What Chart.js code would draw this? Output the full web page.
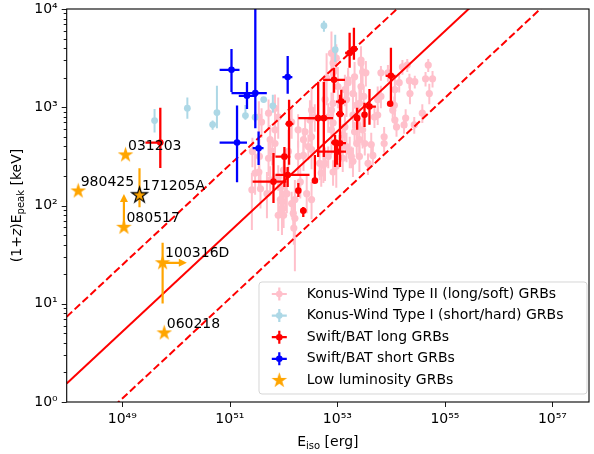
<!DOCTYPE html>
<html>
<head>
<meta charset="utf-8">
<script src="https://cdn.jsdelivr.net/npm/chart.js@4.4.1/dist/chart.umd.min.js"></script>
<style>
html, body { margin: 0; padding: 0; background: #fff; }
#wrap { width: 594px; height: 454px; }
</style>
</head>
<body>
<div id="wrap"><canvas id="c" width="594" height="454"></canvas></div>
<script>
// all values are log10: Eiso in erg, (1+z)Epeak in keV

// Konus-Wind Type II (long/soft)
var kw2LogE = [
54.69,54.77,54.64,54.71,54.58,54.43,54.34,54.44,54.35,54.27,
54.24,54.21,54.30,54.15,54.07,54.03,54.07,54.10,53.87,53.87,
54.06,53.81,53.81,53.75,53.94,53.69,53.75,53.63,53.57,53.41,
53.66,53.51,53.41,53.32,53.36,53.23,53.26,53.35,53.44,53.47,
53.44,53.49,53.29,53.20,53.14,53.14,53.10,53.17,52.98,52.92,
52.74,52.70,52.67,52.83,52.89,52.83,52.89,52.92,52.77,52.80,
52.92,52.89,52.58,52.52,52.46,52.37,52.43,52.31,52.21,52.15,
52.03,51.97,51.97,52.18,52.21,53.29,53.38,51.54,51.57,51.69,
51.75,51.90,51.97,52.00,51.90,51.94,52.06,52.19,
52.77,53.10,53.29,51.55,51.47,51.79,51.72,51.94,52.52,52.09,
51.75,51.84,51.90,51.84,52.52,52.27,52.37,52.40,52.49,52.27,
52.15,51.84,52.00,51.72,51.54,52.52,52.92,52.92,52.98,53.01,
53.17,53.20,53.41,53.32,53.44,53.53,53.47,51.42,51.41,51.59];
var kw2LogEp = [
3.43,3.29,3.29,3.14,2.94,2.82,3.27,3.26,3.14,2.89,
2.82,3.41,3.43,3.25,3.18,2.97,2.87,2.80,2.70,2.63,
3.02,3.35,3.11,3.08,3.35,2.90,2.92,2.62,2.43,2.50,
2.51,2.63,2.67,2.75,2.63,2.55,2.50,3.02,3.21,3.36,
3.45,3.11,3.14,3.28,3.18,2.80,2.72,2.60,2.40,2.34,
2.41,2.33,2.43,2.50,2.77,2.90,2.97,2.84,3.08,3.30,
3.45,3.55,2.90,2.70,2.60,2.51,2.12,2.24,2.06,2.02,
2.12,1.97,1.92,1.92,1.87,2.92,2.82,2.34,2.17,2.12,
2.26,2.29,2.04,1.90,1.90,2.19,2.12,1.77,
2.43,2.48,2.45,2.50,2.33,2.55,2.48,2.06,2.06,2.55,
2.67,2.77,2.90,2.99,2.57,2.50,2.67,2.75,2.87,2.77,
2.85,2.63,2.36,2.94,2.90,2.97,3.04,3.35,3.50,3.21,
3.08,3.25,3.04,3.31,3.48,3.35,2.77,2.55,2.16,2.85];
var kw2ErrUp = [
.06,.08,.07,.10,.09,.08,.07,.06,.10,.09, .08,.07,.06,.09,.12,.10,.08,.09,.10,.08,
.09,.07,.11,.13,.08,.10,.09,.12,.10,.14, .09,.11,.13,.10,.12,.15,.10,.13,.16,.12,
.14,.10,.18,.12,.15,.13,.11,.14,.20,.12, .16,.12,.15,.10,.22,.14,.18,.12,.20,.25,
.15,.22,.13,.16,.12,.14,.18,.15,.20,.12, .16,.14,.20,.12,.29,.12,.10,.16,.18,.22,
.14,.12,.15,.23,.14,.12,.18,.15,
.16,.12,.14,.18,.20,.12,.16,.14,.18,.22, .15,.12,.20,.14,.18,.16,.12,.14,.20,.16,
.15,.12,.18,.14,.16,.22,.12,.18,.14,.20, .16,.12,.18,.15,.14,.12,.16,.14,.17,.14];
var kw2ErrDn = [
.07,.09,.08,.11,.10,.09,.08,.07,.11,.10, .09,.08,.07,.10,.13,.11,.09,.10,.12,.09,
.10,.08,.12,.14,.09,.11,.10,.13,.12,.16, .10,.12,.15,.11,.14,.17,.12,.15,.18,.14,
.16,.11,.20,.14,.17,.15,.13,.16,.22,.14, .18,.14,.17,.12,.25,.16,.20,.14,.22,.28,
.17,.25,.15,.18,.14,.16,.20,.17,.22,.14, .18,.16,.22,.14,.54,.14,.12,.18,.20,.25,
.16,.14,.17,.13,.16,.14,.20,.17,
.18,.14,.16,.20,.22,.14,.18,.16,.20,.25, .17,.14,.22,.16,.20,.18,.14,.16,.22,.18,
.17,.14,.20,.16,.18,.25,.14,.20,.16,.22, .18,.14,.20,.17,.16,.14,.19,.16,.41,.16];

// Konus-Wind Type I (short/hard)
var kw1LogE  = [49.60, 50.21, 50.76, 50.68, 51.29, 51.47, 51.63, 51.80, 52.75, 52.96];
var kw1LogEp = [2.864, 2.991, 2.946, 2.824, 2.915, 2.899, 3.078, 3.014, 3.830, 3.585];
var kw1EpLo  = [2.742, 2.882, 2.787, 2.770, 2.872, 2.851, 3.050, 2.943, 3.769, 3.461];
var kw1EpHi  = [2.981, 3.099, 3.218, 2.864, 3.024, 2.953, 3.100, 3.127, 3.881, 3.738];

// Swift/BAT long
var batLongLogE  = [49.707,51.812,52.015,52.076,52.102,52.274,52.366,52.582,52.643,52.748,52.938,53.073,53.049,52.957,53.049,52.994,53.368,53.505,53.597,53.228,53.308,53.996,53.982];
var batLongELo   = [49.430,51.424,51.849,51.849,52.034,52.237,52.311,52.550,52.274,52.459,52.735,52.975,52.975,52.883,52.938,52.643,53.340,53.480,53.477,53.144,53.234,53.898,53.982];
var batLongEHi   = [49.744,52.052,52.126,52.482,52.182,52.311,52.422,52.610,52.828,52.920,53.141,53.160,53.123,53.105,53.160,53.160,53.400,53.530,53.717,53.310,53.382,54.083,53.982];
var batLongLogEp = [2.640,2.243,2.497,2.311,2.831,2.151,1.947,2.253,2.889,2.889,3.279,3.058,2.930,2.640,2.634,2.548,2.889,2.923,3.007,3.552,3.592,3.320,3.035];
var batLongEpLo  = [2.382,2.026,2.189,2.189,2.415,2.087,1.883,2.229,2.494,2.494,3.147,2.923,2.393,2.393,2.464,2.415,2.770,2.800,2.821,3.401,3.483,3.045,3.035];
var batLongEpHi  = [2.994,2.535,2.596,2.393,3.076,2.229,1.985,2.515,3.259,3.259,3.402,3.178,3.126,2.718,2.718,2.668,2.994,3.045,3.186,3.758,3.809,3.606,3.035];

// Swift/BAT short
var batShortLogE  = [51.031, 51.319, 51.474, 51.134, 51.535, 52.076];
var batShortELo   = [50.810, 51.166, 51.031, 50.810, 51.424, 51.978];
var batShortEHi   = [51.180, 51.498, 51.688, 51.319, 51.627, 52.163];
var batShortLogEp = [3.381, 3.116, 3.144, 2.640, 2.583, 3.307];
var batShortEpLo  = [3.154, 2.981, 2.787, 2.236, 2.413, 3.137];
var batShortEpHi  = [3.592, 3.256, 4.500, 3.017, 2.752, 3.521];

// low luminosity GRBs
var llNames  = ['980425', '031203', '171205A', '080517', '100316D', '060218'];
var llLogE   = [48.18, 49.06, 49.32, 49.03, 49.75, 49.78];
var llLogEp  = [2.148, 2.515, 2.104, 1.778, 1.417, 0.703];
var llEpLo   = [null, null, 1.982, null, 1.003, null];
var llEpHi   = [null, null, 2.379, null, 1.621, null];
var llEpLimit = [null, null, null, 2.117, null, null];   // lower limit arrow (up)
var llELimit  = [null, null, null, null, 50.20, null];   // lower limit arrow (right)

// Amati relation and its scatter
var amatiSlope = 0.51;
var amatiLogEpAt52 = 2.245;
var amatiScatter = 0.68;

var xLogMin = 47.966, xLogMax = 57.68;
var xTickExps = [49, 51, 53, 55, 57];
var yTickExps = [0, 1, 2, 3, 4];

var legendLabels = ['Konus-Wind Type II (long/soft) GRBs', 'Konus-Wind Type I (short/hard) GRBs',
                    'Swift/BAT long GRBs', 'Swift/BAT short GRBs', 'Low luminosity GRBs'];

function p10(v) { return Math.pow(10, v); }
var SUP = '⁰¹²³⁴⁵⁶⁷⁸⁹';
function sup(n) { return String(n).split('').map(function (d) { return SUP[+d]; }).join(''); }

function makeStar(r, fill, edge) {
  var s = Math.ceil(2 * r + 4), c = document.createElement('canvas');
  c.width = s; c.height = s;
  var g = c.getContext('2d');
  g.beginPath();
  for (var i = 0; i < 10; i++) {
    var rr = i % 2 ? r * 0.382 : r;
    var a = -Math.PI / 2 + i * Math.PI / 5;
    g.lineTo(s / 2 + rr * Math.cos(a), s / 2 + rr * Math.sin(a));
  }
  g.closePath();
  g.fillStyle = fill; g.fill();
  if (edge) { g.strokeStyle = edge; g.lineWidth = 1.2; g.stroke(); }
  return c;
}
var star = makeStar(8.2, 'orange');
var starEdge = makeStar(8.2, 'orange', 'black');

// build points
var kw2Pts = kw2LogE.map(function (e, i) {
  return {x: p10(e), y: p10(kw2LogEp[i]), yLo: p10(kw2LogEp[i] - kw2ErrDn[i]), yHi: p10(kw2LogEp[i] + kw2ErrUp[i])};
});
var kw1Pts = kw1LogE.map(function (e, i) {
  return {x: p10(e), y: p10(kw1LogEp[i]), yLo: p10(kw1EpLo[i]), yHi: p10(kw1EpHi[i])};
});
var batLongPts = batLongLogE.map(function (e, i) {
  return {x: p10(e), y: p10(batLongLogEp[i]), xLo: p10(batLongELo[i]), xHi: p10(batLongEHi[i]),
          yLo: p10(batLongEpLo[i]), yHi: p10(batLongEpHi[i])};
});
var batShortPts = batShortLogE.map(function (e, i) {
  return {x: p10(e), y: p10(batShortLogEp[i]), xLo: p10(batShortELo[i]), xHi: p10(batShortEHi[i]),
          yLo: p10(batShortEpLo[i]), yHi: p10(batShortEpHi[i])};
});
var llPts = llLogE.map(function (e, i) {
  var p = {x: p10(e), y: p10(llLogEp[i]), name: llNames[i]};
  if (llEpLo[i] !== null) { p.yLo = p10(llEpLo[i]); p.yHi = p10(llEpHi[i]); }
  if (llEpLimit[i] !== null) p.yLim = p10(llEpLimit[i]);
  if (llELimit[i] !== null) p.xLim = p10(llELimit[i]);
  return p;
});

function amatiLine(shift) {
  return [xLogMin, xLogMax].map(function (e) {
    return {x: p10(e), y: p10(amatiLogEpAt52 + shift + amatiSlope * (e - 52))};
  });
}

var errorBars = {
  id: 'errorBars',
  beforeDatasetDraw: function (chart, args) {
    var ds = chart.data.datasets[args.index];
    if (!ds.errColor) return;
    var ctx = chart.ctx, a = chart.chartArea, x = chart.scales.x, y = chart.scales.y;
    ctx.save();
    ctx.beginPath(); ctx.rect(a.left, a.top, a.right - a.left, a.bottom - a.top); ctx.clip();
    ctx.strokeStyle = ds.errColor; ctx.fillStyle = ds.errColor; ctx.lineWidth = ds.errWidth;
    ds.data.forEach(function (p) {
      var px = x.getPixelForValue(p.x), py = y.getPixelForValue(p.y);
      ctx.beginPath();
      if (p.xLo !== undefined) { ctx.moveTo(x.getPixelForValue(p.xLo), py); ctx.lineTo(x.getPixelForValue(p.xHi), py); }
      if (p.yLo !== undefined) { ctx.moveTo(px, y.getPixelForValue(p.yLo)); ctx.lineTo(px, y.getPixelForValue(p.yHi)); }
      ctx.stroke();
      if (p.yLim !== undefined) {
        var ty = y.getPixelForValue(p.yLim);
        ctx.beginPath(); ctx.moveTo(px, py); ctx.lineTo(px, ty + 4); ctx.stroke();
        ctx.beginPath(); ctx.moveTo(px, ty); ctx.lineTo(px - 4, ty + 8); ctx.lineTo(px + 4, ty + 8); ctx.closePath(); ctx.fill();
      }
      if (p.xLim !== undefined) {
        var tx = x.getPixelForValue(p.xLim);
        ctx.beginPath(); ctx.moveTo(px, py); ctx.lineTo(tx - 4, py); ctx.stroke();
        ctx.beginPath(); ctx.moveTo(tx, py); ctx.lineTo(tx - 8, py - 4); ctx.lineTo(tx - 8, py + 4); ctx.closePath(); ctx.fill();
      }
    });
    ctx.restore();
  }
};

var frameTicks = {
  id: 'frameTicks',
  afterDraw: function (chart) {
    var ctx = chart.ctx, a = chart.chartArea, x = chart.scales.x, y = chart.scales.y;
    ctx.save();
    ctx.strokeStyle = '#000';
    ctx.lineWidth = 0.9;
    xTickExps.forEach(function (e) {
      var px = Math.round(x.getPixelForValue(p10(e))) + 0.5;
      ctx.beginPath(); ctx.moveTo(px, a.bottom); ctx.lineTo(px, a.bottom + 5); ctx.stroke();
    });
    for (var e = 0; e < 4; e++) {
      for (var m = 1; m < 10; m++) {
        var py = Math.round(y.getPixelForValue(m * p10(e))) + 0.5;
        ctx.beginPath(); ctx.moveTo(a.left, py); ctx.lineTo(a.left - (m === 1 ? 5 : 3), py); ctx.stroke();
      }
    }
    var py4 = Math.round(y.getPixelForValue(p10(4))) + 0.5;
    ctx.beginPath(); ctx.moveTo(a.left, py4); ctx.lineTo(a.left - 5, py4); ctx.stroke();
    ctx.lineWidth = 1.1;
    ctx.strokeRect(a.left, a.top, a.right - a.left, a.bottom - a.top);

    // axis titles
    ctx.fillStyle = '#000';
    ctx.textBaseline = 'alphabetic';
    var big = '14px "DejaVu Sans"', small = '10px "DejaVu Sans"', ital = 'oblique 14px "DejaVu Sans"';
    function runs(parts) {
      var w = 0;
      parts.forEach(function (r) { ctx.font = r[1]; r.w = ctx.measureText(r[0]).width; w += r.w; });
      return w;
    }
    var xt = [['E', big, 0], ['iso', small, 3], [' [erg]', big, 0]];
    var wx = runs(xt), cx = (a.left + a.right) / 2 - wx / 2;
    xt.forEach(function (r) { ctx.font = r[1]; ctx.fillText(r[0], cx, 445.5 + r[2]); cx += r.w; });

    var yt = [['(1+', big, 0], ['z', ital, 0], [')E', big, 0], ['peak', small, 3], [' [keV]', big, 0]];
    var wy = runs(yt);
    ctx.translate(21, (a.top + a.bottom) / 2);
    ctx.rotate(-Math.PI / 2);
    var cy = -wy / 2;
    yt.forEach(function (r) { ctx.font = r[1]; ctx.fillText(r[0], cy, r[2]); cy += r.w; });
    ctx.restore();
  }
};

var annotate = {
  id: 'annotate',
  afterDatasetsDraw: function (chart) {
    var ctx = chart.ctx, meta = chart.getDatasetMeta(0);
    ctx.save();
    ctx.font = '14px "DejaVu Sans"';
    ctx.fillStyle = '#000';
    ctx.textBaseline = 'middle';
    ctx.textAlign = 'left';
    meta.data.forEach(function (el, i) {
      ctx.fillText(llPts[i].name, el.x + 2.5, el.y - 9);
    });
    ctx.restore();
  }
};

var legendBox = {
  id: 'legendBox',
  afterDraw: function (chart) {
    var ctx = chart.ctx;
    var bx = 259, by = 282, bw = 328, bh = 112, r = 3;
    ctx.save();
    ctx.beginPath();
    ctx.moveTo(bx + r, by); ctx.arcTo(bx + bw, by, bx + bw, by + bh, r); ctx.arcTo(bx + bw, by + bh, bx, by + bh, r);
    ctx.arcTo(bx, by + bh, bx, by, r); ctx.arcTo(bx, by, bx + bw, by, r); ctx.closePath();
    ctx.fillStyle = 'rgba(255,255,255,0.8)'; ctx.fill();
    ctx.strokeStyle = 'rgba(204,204,204,0.8)'; ctx.lineWidth = 1; ctx.stroke();
    var cols = ['pink', 'lightblue', 'red', 'blue'];
    var hx = 279.3, tx = 306.7;
    legendLabels.forEach(function (lab, i) {
      var cy = 294 + i * 21.6;
      if (i < 4) {
        ctx.strokeStyle = cols[i]; ctx.fillStyle = cols[i]; ctx.lineWidth = 2.2;
        ctx.beginPath(); ctx.moveTo(hx - 7.5, cy); ctx.lineTo(hx + 7.5, cy);
        ctx.moveTo(hx, cy - 6.5); ctx.lineTo(hx, cy + 6.5); ctx.stroke();
        ctx.beginPath(); ctx.arc(hx, cy, 3.3, 0, Math.PI * 2); ctx.fill();
      } else {
        ctx.drawImage(star, hx - star.width / 2, cy - star.height / 2);
      }
      ctx.fillStyle = '#000'; ctx.font = '14px "DejaVu Sans"'; ctx.textBaseline = 'middle';
      ctx.fillText(lab, tx, cy);
    });
    ctx.restore();
  }
};

Chart.defaults.font.family = '"DejaVu Sans"';
Chart.defaults.font.size = 14;
Chart.defaults.color = '#000';

new Chart(document.getElementById('c'), {
  type: 'scatter',
  data: {
    datasets: [
      {label: legendLabels[4], data: llPts, order: 0, pointStyle: [star, star, starEdge, star, star, star],
       errColor: 'orange', errWidth: 2.2, backgroundColor: 'orange'},
      {label: legendLabels[3], data: batShortPts, order: 1, pointRadius: 3.3, backgroundColor: 'blue', borderWidth: 0,
       errColor: 'blue', errWidth: 2.3},
      {label: legendLabels[2], data: batLongPts, order: 2, pointRadius: 3.3, backgroundColor: 'red', borderWidth: 0,
       errColor: 'red', errWidth: 2.3},
      {type: 'line', data: amatiLine(0), order: 3, borderColor: 'red', borderWidth: 2, pointRadius: 0, fill: false},
      {type: 'line', data: amatiLine(amatiScatter), order: 3, borderColor: 'red', borderWidth: 2, borderDash: [7.5, 3.3], pointRadius: 0, fill: false},
      {type: 'line', data: amatiLine(-amatiScatter), order: 3, borderColor: 'red', borderWidth: 2, borderDash: [7.5, 3.3], pointRadius: 0, fill: false},
      {label: legendLabels[1], data: kw1Pts, order: 4, pointRadius: 3.4, backgroundColor: 'lightblue', borderWidth: 0,
       errColor: 'lightblue', errWidth: 2},
      {label: legendLabels[0], data: kw2Pts, order: 5, pointRadius: 3.6, backgroundColor: 'pink', borderWidth: 0,
       errColor: 'pink', errWidth: 2}
    ]
  },
  options: {
    responsive: false,
    animation: false,
    devicePixelRatio: 1,
    layout: {padding: {top: 9, right: 1, left: 0, bottom: 0}},
    plugins: {legend: {display: false}, tooltip: {enabled: false}},
    scales: {
      x: {
        type: 'logarithmic', min: p10(xLogMin), max: p10(xLogMax),
        grid: {display: false, drawTicks: false}, border: {display: false},
        ticks: {padding: 9, maxRotation: 0, autoSkip: false,
                callback: function (v) { return '10' + sup(Math.round(Math.log10(v))); }},
        afterBuildTicks: function (s) { s.ticks = xTickExps.map(function (e) { return {value: p10(e)}; }); },
        afterFit: function (s) { s.height = 52; s.paddingLeft = 0; s.paddingRight = 0; }
      },
      y: {
        type: 'logarithmic', min: 1, max: 1e4,
        grid: {display: false, drawTicks: false}, border: {display: false},
        ticks: {padding: 9, autoSkip: false,
                callback: function (v) { return '10' + sup(Math.round(Math.log10(v))); }},
        afterBuildTicks: function (s) { s.ticks = yTickExps.map(function (e) { return {value: p10(e)}; }); },
        afterFit: function (s) { s.width = 66.7; s.paddingTop = 0; s.paddingBottom = 0; }
      }
    }
  },
  plugins: [errorBars, annotate, frameTicks, legendBox]
});
</script>
</body>
</html>
